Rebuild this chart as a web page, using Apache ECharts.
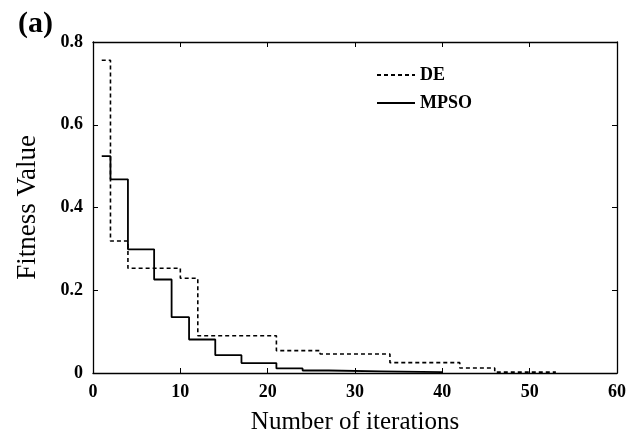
<!DOCTYPE html>
<html>
<head>
<meta charset="utf-8">
<script src="https://cdn.jsdelivr.net/npm/echarts@6/dist/echarts.min.js"></script>
<style>
  html, body { margin: 0; padding: 0; background: #fff; }
  #container { width: 638px; height: 436px; }
</style>
</head>
<body>
<div id="container"></div>
<script>
// DE curve (iteration, fitness)
var deIter = [1, 2, 4, 10, 12, 21, 26, 34, 42, 46, 53];
var deFit = [0.756, 0.319, 0.253, 0.229, 0.090, 0.054, 0.046, 0.025, 0.012, 0.002, 0.002];
// MPSO curve
var mpsoIter = [1, 2, 4, 7, 9, 11, 14, 17, 21, 24, 27, 33, 40];
var mpsoFit = [0.524, 0.468, 0.299, 0.226, 0.135, 0.081, 0.043, 0.024, 0.011, 0.006, 0.004, 0.002, 0.002];
var xTicks = [0, 10, 20, 30, 40, 50, 60];
var yTicks = [0, 0.2, 0.4, 0.6, 0.8];

function pairs(xs, ys) {
  return xs.map(function (x, i) { return [x, ys[i]]; });
}

var chart = echarts.init(document.getElementById("container"));
var serif = "Liberation Serif, Times New Roman, serif";
var axisLine = { show: true, onZero: false, lineStyle: { color: "#000", width: 1.3 } };
var tick = { show: true, inside: true, length: 5, lineStyle: { color: "#000" } };

var option = {
  animation: false,
  grid: { left: 93, right: 21, top: 42, bottom: 63, outerBoundsMode: "none" },
  title: {
    text: "(a)",
    left: 13,
    top: 4,
    textStyle: { fontFamily: serif, fontWeight: "bold", fontSize: 30, color: "#000" }
  },
  legend: {
    orient: "vertical",
    left: 371,
    top: 61,
    itemWidth: 38,
    itemHeight: 10,
    itemGap: 10,
    data: ["DE", "MPSO"],
    itemStyle: { opacity: 0 },
    textStyle: { fontFamily: serif, fontWeight: "bold", fontSize: 18, color: "#000" }
  },
  xAxis: [
    {
      type: "value",
      min: 0, max: 60, interval: 10,
      name: "Number of iterations",
      nameLocation: "middle",
      nameGap: 37,
      nameTextStyle: { fontFamily: serif, fontSize: 25, color: "#000" },
      axisLine: axisLine,
      axisTick: tick,
      splitLine: { show: false },
      axisLabel: {
        fontFamily: serif, fontWeight: "bold", fontSize: 18, color: "#000", margin: 10,
        formatter: function (v) { return xTicks.indexOf(v) >= 0 ? String(v) : ""; }
      }
    },
    {
      type: "value", position: "top",
      min: 0, max: 60, interval: 10,
      axisLine: axisLine, axisTick: tick,
      axisLabel: { show: false }, splitLine: { show: false }
    }
  ],
  yAxis: [
    {
      type: "value",
      min: 0, max: 0.8, interval: 0.2,
      name: "Fitness Value",
      nameLocation: "middle",
      nameGap: 52,
      nameTextStyle: { fontFamily: serif, fontSize: 27, color: "#000" },
      axisLine: axisLine,
      axisTick: tick,
      splitLine: { show: false },
      axisLabel: {
        fontFamily: serif, fontWeight: "bold", fontSize: 18, color: "#000", margin: 10,
        formatter: function (v) {
          var t = yTicks.find(function (y) { return Math.abs(y - v) < 1e-6; });
          return t === undefined ? "" : (t === 0 ? "0" : t.toFixed(1));
        }
      }
    },
    {
      type: "value", position: "right",
      min: 0, max: 0.8, interval: 0.2,
      axisLine: axisLine, axisTick: tick,
      axisLabel: { show: false }, splitLine: { show: false }
    }
  ],
  series: [
    {
      name: "DE",
      type: "line",
      step: "end",
      symbol: "none",
      data: pairs(deIter, deFit),
      lineStyle: { color: "#000", width: 1.6, type: [4, 3] },
      itemStyle: { color: "#000" }
    },
    {
      name: "MPSO",
      type: "line",
      step: "end",
      symbol: "none",
      data: pairs(mpsoIter, mpsoFit),
      lineStyle: { color: "#000", width: 1.8, type: "solid" },
      itemStyle: { color: "#000" }
    }
  ]
};
option && chart.setOption(option);
</script>
</body>
</html>
